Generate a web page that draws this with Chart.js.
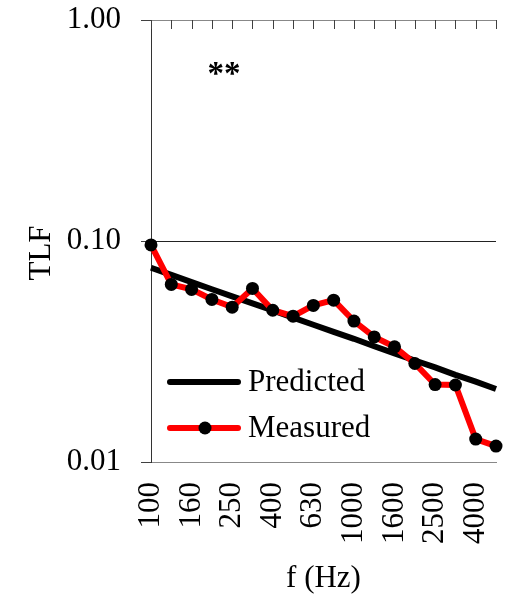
<!DOCTYPE html>
<html>
<head>
<meta charset="utf-8">
<script src="https://cdn.jsdelivr.net/npm/chart.js@4.4.1/dist/chart.umd.min.js"></script>
<style>
  html, body { margin: 0; padding: 0; background: #fff; }
  #wrap { width: 510px; height: 598px; }
</style>
</head>
<body>
<div id="wrap"><canvas id="tlfChart" width="510" height="598"></canvas></div>
<script>
// 1/3-octave band centre frequencies (Hz)
const frequencies = ['100', '125', '160', '200', '250', '315', '400', '500', '630',
  '800', '1000', '1250', '1600', '2000', '2500', '3150', '4000', '5000'];

// Measured TLF per band
const measured = [0.096, 0.0636, 0.0604, 0.0544, 0.0502, 0.0610, 0.0486, 0.0457, 0.0511,
  0.0540, 0.0434, 0.0368, 0.0332, 0.0279, 0.0224, 0.0223, 0.0127, 0.0118];

// Predicted TLF per band
const predicted = [0.0757, 0.0703, 0.0652, 0.0605, 0.0562, 0.0522, 0.0485, 0.0450, 0.0418,
  0.0388, 0.0361, 0.0334, 0.0310, 0.0288, 0.0268, 0.0248, 0.0231, 0.0214];

// y tick values
const yTicks = [0.01, 0.1, 1];

const FONT = '"Liberation Serif", "Times New Roman", serif';

// Extra bits: inward ticks on top edge, y title, "**" note, legend inside plot
const extrasPlugin = {
  id: 'extras',
  beforeDatasetsDraw(chart) {
    const { ctx, chartArea } = chart;
    const x = chart.scales.x;
    ctx.save();
    ctx.strokeStyle = '#404040';
    ctx.lineWidth = 1;
    frequencies.forEach((f, i) => {
      const px = Math.round(x.getPixelForValue(i)) + 0.5;
      ctx.beginPath();
      ctx.moveTo(px, chartArea.top);
      ctx.lineTo(px, chartArea.top + 9);
      ctx.stroke();
    });

    // y axis title (sits a bit below the axis middle, as in the original)
    ctx.translate(42, 253);
    ctx.rotate(-Math.PI / 2);
    ctx.fillStyle = '#000';
    ctx.font = '31px ' + FONT;
    ctx.textAlign = 'center';
    ctx.textBaseline = 'middle';
    ctx.fillText('TLF', 0, 0);
    ctx.restore();
  },
  afterDatasetsDraw(chart) {
    const { ctx } = chart;
    ctx.save();
    // significance mark
    ctx.fillStyle = '#000';
    ctx.font = 'bold 33px ' + FONT;
    ctx.textAlign = 'center';
    ctx.textBaseline = 'middle';
    ctx.fillText('**', 224, 75);

    // legend
    const rows = [
      { ds: chart.data.datasets[1], y: 382 },
      { ds: chart.data.datasets[0], y: 428 }
    ];
    rows.forEach(r => {
      ctx.strokeStyle = r.ds.borderColor;
      ctx.lineWidth = r.ds.borderWidth;
      ctx.lineCap = 'round';
      ctx.beginPath();
      ctx.moveTo(170, r.y);
      ctx.lineTo(238, r.y);
      ctx.stroke();
      if (r.ds.pointRadius > 0) {
        ctx.fillStyle = r.ds.pointBackgroundColor;
        ctx.beginPath();
        ctx.arc(205, r.y, r.ds.pointRadius, 0, Math.PI * 2);
        ctx.fill();
      }
      ctx.fillStyle = '#000';
      ctx.font = '31px ' + FONT;
      ctx.textAlign = 'left';
      ctx.textBaseline = 'middle';
      ctx.fillText(r.ds.label, 248, r.y + 1);
    });
    ctx.restore();
  }
};

new Chart(document.getElementById('tlfChart'), {
  type: 'line',
  data: {
    labels: frequencies,
    datasets: [
      {
        label: 'Measured',
        data: measured,
        borderColor: '#ff0000',
        borderWidth: 6,
        pointRadius: 6.5,
        pointBackgroundColor: '#000',
        pointBorderWidth: 0,
        tension: 0,
        clip: false,
        order: 0
      },
      {
        label: 'Predicted',
        data: predicted,
        borderColor: '#000',
        borderWidth: 6,
        pointRadius: 0,
        tension: 0,
        clip: false,
        order: 1
      }
    ]
  },
  options: {
    responsive: false,
    animation: false,
    layout: { padding: { top: 20, right: 14, bottom: 0, left: 0 } },
    plugins: {
      legend: { display: false },
      tooltip: { enabled: false }
    },
    scales: {
      x: {
        type: 'category',
        position: 'bottom',
        offset: false,
        grid: { display: false, drawTicks: false },
        border: { display: true, color: '#888', width: 1 },
        ticks: {
          autoSkip: false,
          maxRotation: 90,
          minRotation: 90,
          padding: 20,
          color: '#000',
          font: { family: FONT, size: 31 },
          callback: (v, i) => (i % 2 === 0 ? frequencies[i] : '')
        },
        title: {
          display: true,
          text: 'f (Hz)',
          color: '#000',
          font: { family: FONT, size: 31 },
          padding: { top: 0, bottom: 1 }
        },
        afterFit: scale => {
          scale.height = 136;
          scale.paddingLeft = 0;
          scale.paddingRight = 0;
        }
      },
      y: {
        type: 'logarithmic',
        min: 0.01,
        max: 1,
        afterBuildTicks: scale => { scale.ticks = yTicks.map(v => ({ value: v })); },
        grid: {
          color: ctx => (ctx.tick && ctx.tick.value === 0.1 ? '#222' : '#888'),
          lineWidth: 1,
          tickLength: 10,
          tickColor: '#404040'
        },
        border: { display: true, color: '#333', width: 1 },
        ticks: {
          padding: 20,
          color: '#000',
          font: { family: FONT, size: 31 },
          callback: v => Number(v).toFixed(2)
        },
        title: { display: false },
        afterFit: scale => {
          scale.width = 151;
          scale.paddingTop = 0;
          scale.paddingBottom = 0;
        }
      }
    }
  },
  plugins: [extrasPlugin]
});
</script>
</body>
</html>
